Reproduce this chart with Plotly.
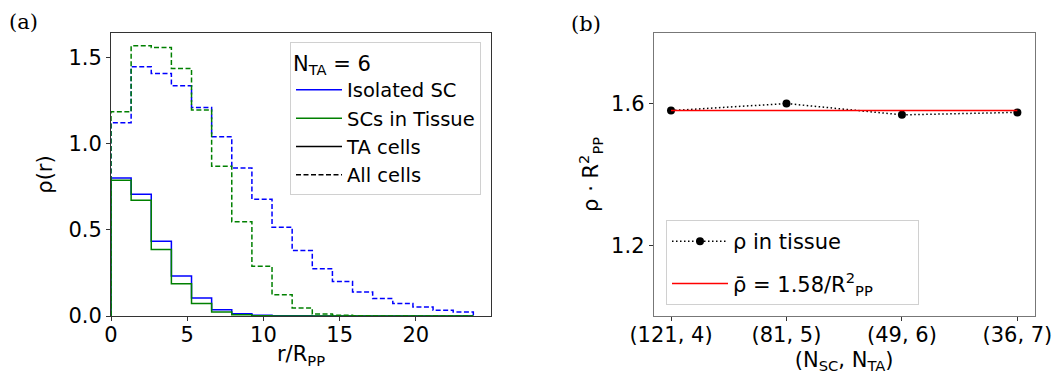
import numpy as np
import plotly.graph_objects as go

# ---------------- data ----------------
N_BINS = 18
R_MAX = 23.77  # last bin edge (units of R_PP)

iso_ta = [0.802, 0.707, 0.434, 0.233, 0.105, 0.037, 0.013, 0.004, 0.002, 0.001,
          0.0, 0.0, 0.0, 0.0, 0.0, 0.0, 0.0, 0.0]
iso_all = [1.122, 1.448, 1.409, 1.337, 1.211, 1.041, 0.860, 0.678, 0.516, 0.380,
           0.275, 0.200, 0.140, 0.101, 0.072, 0.052, 0.033, 0.023]
tis_ta = [0.789, 0.672, 0.386, 0.188, 0.072, 0.023, 0.007, 0.001, 0.0, 0.0,
          0.0, 0.0, 0.0, 0.0, 0.0, 0.0, 0.0, 0.0]
tis_all = [1.186, 1.570, 1.560, 1.438, 1.196, 0.870, 0.547, 0.289, 0.124, 0.047,
           0.012, 0.004, 0.001, 0.0, 0.0, 0.0, 0.0, 0.0]

categories = ["(121, 4)", "(81, 5)", "(49, 6)", "(36, 7)"]
rho_tissue = [1.580, 1.600, 1.568, 1.575]
rho_mean = 1.58

x_ticks_a = [0, 5, 10, 15, 20]
y_ticks_a = [0.0, 0.5, 1.0, 1.5]
y_ticks_b = [1.2, 1.6]

# ---------------- helpers ----------------
W, H = 1060, 374
FONT = "DejaVu Sans"
TICK = 21
edges = np.linspace(0, R_MAX, N_BINS + 1)


def step_xy(vals):
    x = [edges[0]] + list(edges) + [edges[-1]]
    y = [0.0] + list(vals) + [vals[-1], 0.0]
    return x, y


fig = go.Figure()

hist_specs = [
    (iso_ta, "blue", "solid"),
    (iso_all, "blue", "5px,2.5px"),
    (tis_ta, "green", "solid"),
    (tis_all, "green", "5px,2.5px"),
]
for vals, col, dash in hist_specs:
    x, y = step_xy(vals)
    fig.add_trace(go.Scatter(x=x, y=y, mode="lines", line_shape="hv",
                             line=dict(color=col, width=1.5, dash=dash),
                             showlegend=False, hoverinfo="skip",
                             xaxis="x", yaxis="y"))

legend_specs = [
    ("Isolated SC", "blue", "solid"),
    ("SCs in Tissue", "green", "solid"),
    ("TA cells", "black", "solid"),
    ("All cells", "black", "5px,2.5px"),
]
for name, col, dash in legend_specs:
    fig.add_trace(go.Scatter(x=[None], y=[None], mode="lines", name=name,
                             line=dict(color=col, width=1.5, dash=dash),
                             legend="legend", xaxis="x", yaxis="y"))

fig.add_trace(go.Scatter(x=categories, y=rho_tissue, mode="lines+markers",
                         name="ρ in tissue", legendgroup="g1",
                         line=dict(color="black", width=1.5, dash="1.5px,2.5px"),
                         marker=dict(color="black", size=8),
                         legend="legend2", xaxis="x2", yaxis="y2"))
fig.add_trace(go.Scatter(x=[categories[0], categories[-1]], y=[rho_mean, rho_mean],
                         mode="lines", legendgroup="g2",
                         name="ρ\u0304 = 1.58/R<sup>2</sup><sub>PP</sub>"
                              "&nbsp;&nbsp;&nbsp;&nbsp;&nbsp;&nbsp;",
                         line=dict(color="red", width=1.5),
                         legend="legend2", xaxis="x2", yaxis="y2"))

axis_common = dict(showgrid=False, zeroline=False, showline=True, mirror=True,
                   linewidth=1, ticks="outside", ticklen=4, tickwidth=1,
                   tickfont=dict(family=FONT, size=TICK, color="black"),
                   automargin=False)

fig.update_layout(
    width=W, height=H,
    margin=dict(l=0, r=0, t=0, b=0),
    paper_bgcolor="white", plot_bgcolor="white",
    font=dict(family=FONT, size=20, color="black"),
    xaxis=dict(domain=[111 / W, 491 / W], range=[0, 24.93], tickvals=x_ticks_a,
               anchor="y", linecolor="#333", tickcolor="#333",
               ticklabelstandoff=-4,
               title=dict(text="r/R<sub>PP</sub>", standoff=0,
                          font=dict(family=FONT, size=21)),
               **axis_common),
    yaxis=dict(domain=[1 - 316 / H, 1 - 33 / H], range=[0, 1.644],
               tickvals=y_ticks_a, tickformat=".1f", anchor="x",
               linecolor="#333", tickcolor="#333",
               title=dict(text="ρ(r)", standoff=10,
                          font=dict(family=FONT, size=21)),
               **axis_common),
    xaxis2=dict(domain=[653.7 / W, 1034.7 / W], type="category",
                range=[-0.15, 3.15], anchor="y2",
                linecolor="#777", tickcolor="#333",
                ticklabelstandoff=-4,
                title=dict(text="(N<sub>SC</sub>, N<sub>TA</sub>)", standoff=6,
                           font=dict(family=FONT, size=21)),
                **axis_common),
    yaxis2=dict(domain=[1 - 316 / H, 1 - 32.7 / H], range=[1.0, 1.8],
                tickvals=y_ticks_b, tickformat=".1f", anchor="x2",
                linecolor="#777", tickcolor="#333",
                title=dict(text="ρ · R<sup>2</sup><sub>PP</sub>", standoff=6,
                           font=dict(family=FONT, size=21)),
                **axis_common),
    legend=dict(x=481 / W, xanchor="right", y=1 - 42.3 / H, yanchor="top",
                bgcolor="rgba(255,255,255,0.8)", bordercolor="#d0d0d0",
                borderwidth=1, font=dict(family=FONT, size=19.5),
                title=dict(text="N<sub>TA</sub> = 6",
                           font=dict(family=FONT, size=21)),
                itemwidth=46, tracegroupgap=0),
    legend2=dict(x=666 / W, xanchor="left", y=1 - 305 / H, yanchor="bottom",
                 bgcolor="rgba(255,255,255,0.8)", bordercolor="#d0d0d0",
                 borderwidth=1, font=dict(family=FONT, size=21),
                 itemwidth=56, tracegroupgap=12, traceorder="grouped"),
    annotations=[
        dict(text="(a)", x=23 / W, y=1 - 22 / H, xref="paper", yref="paper",
             xanchor="center", yanchor="middle",
             showarrow=False, font=dict(family="DejaVu Serif", size=21)),
        dict(text="(b)", x=586 / W, y=1 - 24 / H, xref="paper", yref="paper",
             xanchor="center", yanchor="middle",
             showarrow=False, font=dict(family="DejaVu Serif", size=21)),
    ],
)

fig.write_html("out.html",
               config={"displayModeBar": False},
               post_script="document.body.style.margin='0';"
                           "document.body.style.overflow='hidden';")
